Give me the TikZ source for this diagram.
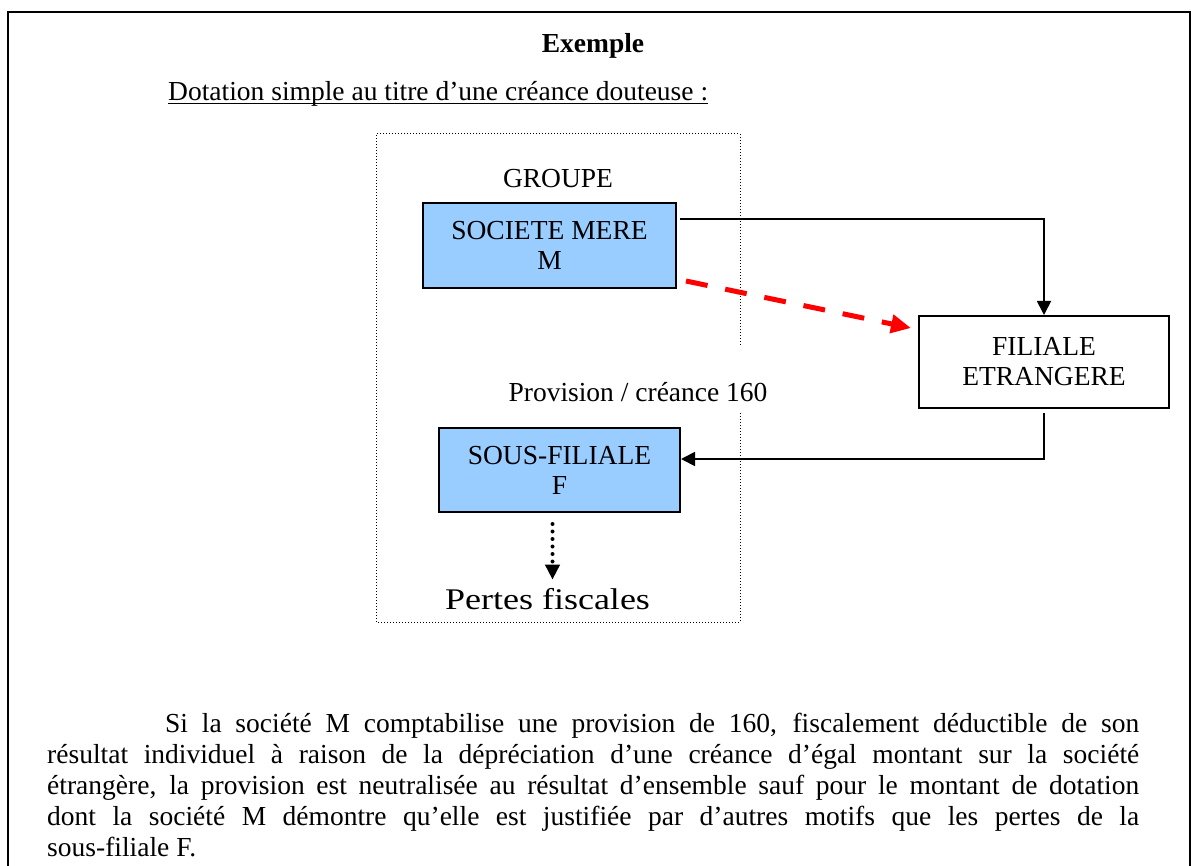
\documentclass[tikz,border=0pt]{standalone}
\usepackage{fontspec}
\usepackage{graphicx}
\setmainfont{Liberation Serif}
\usetikzlibrary{arrows.meta,calc}
\definecolor{boxblue}{HTML}{99CCFF}
\begin{document}
\begin{tikzpicture}[x=1pt,y=-1pt,
  txt/.style={font=\fontsize{27.5}{30}\selectfont, inner sep=0pt},
  bluebox/.style={txt, draw, line width=2pt, fill=boxblue, align=center},
  whitebox/.style={txt, draw, line width=2pt, fill=white, align=center},
  arr/.style={line width=1.8pt, -{Triangle[width=14pt,length=14pt]}},
  redarr/.style={draw=red, line width=5pt, dash pattern=on 22pt off 18pt, -{Triangle[width=18pt,length=20pt]}},
  dotarr/.style={line width=4pt, line cap=round, dash pattern=on 0pt off 7.5pt, -{Triangle[width=14pt,length=15pt]}},
  grp/.style={line width=1pt, dash pattern=on 1pt off 2pt}
]
\useasboundingbox (0,0) rectangle (1191,866);
% outer frame
\draw[line width=2pt] (8,900) -- (8,12) -- (1190,12) -- (1190,900);

% headings
\node[txt, font=\fontsize{27.5}{30}\selectfont\bfseries, anchor=base] (title) at (593,53) {Exemple};
\node[txt, anchor=base west] (subtitle) at (168,101) {Dotation simple au titre d’une créance douteuse :};
\draw[line width=1.3pt] ([yshift=-2.8pt]subtitle.base west) -- ([yshift=-2.8pt]subtitle.base east);

% group frame
\draw[grp] (740,345) -- (740,134) -- (376,134) -- (376,622) -- (740,622) -- (740,412);
\node[txt, anchor=base] (groupe) at (558,188) {GROUPE};
\node[txt, anchor=base] (prov) at (638,401) {Provision / créance 160};

% boxes
\node[bluebox, minimum width=253pt, minimum height=85pt] (soc) at (549.5,245.5) {SOCIETE MERE\\M};
\node[bluebox, minimum width=241pt, minimum height=84pt] (sous) at (559.5,470) {SOUS-FILIALE\\F};
\node[whitebox, minimum width=250pt, minimum height=92pt] (fil) at (1044,362) {FILIALE\\ETRANGERE};
\node[inner sep=0pt, anchor=base] (pertes) at (547.5,609) {\scalebox{1.2}[1]{\fontsize{30}{30}\selectfont Pertes fiscales}};

% connectors
\draw[arr] ($(soc.north east)+(3,17)$) -| (fil.north);
\draw[arr] ([yshift=-4pt]fil.south) |- ([yshift=11pt]sous.east);
\draw[redarr] ($(soc.south east)+(9,-8)$) -- ($(fil.west)+(-7,-34)$);
\draw[dotarr] ($(sous.south)+(-7,11)$) -- ($(sous.south |- pertes.north)+(-7,-8)$);

% paragraph
\node[txt, font=\fontsize{27.5}{31}\selectfont, text width=1092pt, align=justify, anchor=north west] (para) at (47,713)
{\hspace*{118pt}Si la société M comptabilise une provision de 160, fiscalement déductible de son\linebreak
résultat individuel à raison de la dépréciation d’une créance d’égal montant sur la société\linebreak
étrangère, la provision est neutralisée au résultat d’ensemble sauf pour le montant de dotation\linebreak
dont la société M démontre qu’elle est justifiée par d’autres motifs que les pertes de la\linebreak
sous-filiale F.};
\end{tikzpicture}
\end{document}
